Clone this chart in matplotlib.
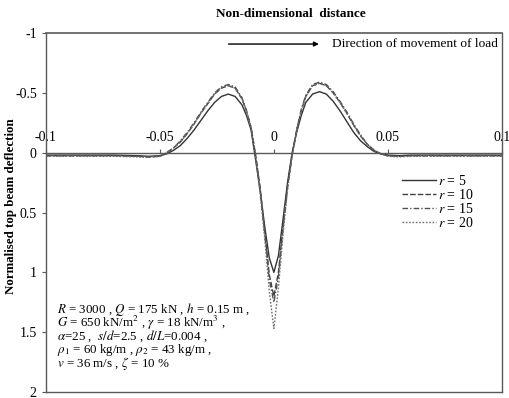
import numpy as np
import matplotlib
matplotlib.use("Agg")
import matplotlib.pyplot as plt

plt.rcParams['font.family'] = ['Liberation Serif', 'DejaVu Serif']
plt.rcParams['mathtext.fontset'] = 'stix'
plt.rcParams['axes.unicode_minus'] = False

# non-dimensional distance
x = [-0.1, -0.09, -0.08, -0.07, -0.06, -0.055, -0.05, -0.047, -0.044, -0.041,
     -0.038, -0.035, -0.032, -0.029, -0.026, -0.023, -0.020, -0.017, -0.014, -0.012,
     -0.010, -0.008, -0.006, -0.004, -0.002, 0.0, 0.002, 0.004, 0.006, 0.008,
     0.010, 0.012, 0.014, 0.017, 0.020, 0.023, 0.026, 0.029, 0.032, 0.035,
     0.038, 0.041, 0.044, 0.047, 0.05, 0.055, 0.06, 0.07, 0.08, 0.09, 0.1]

r5 = [0.02, 0.02, 0.02, 0.02, 0.025, 0.03, 0.025, 0.01, -0.02, -0.06,
      -0.12, -0.19, -0.27, -0.35, -0.42, -0.47, -0.49, -0.47, -0.40, -0.31,
      -0.19, 0.06, 0.32, 0.62, 0.88, 1.0, 0.86, 0.56, 0.25, 0.0,
      -0.17, -0.31, -0.42, -0.49, -0.51, -0.49, -0.43, -0.35, -0.26, -0.17,
      -0.10, -0.05, -0.01, 0.01, 0.02, 0.025, 0.02, 0.02, 0.02, 0.02, 0.02]

r10 = [0.025, 0.025, 0.025, 0.025, 0.03, 0.035, 0.03, 0.0, -0.04, -0.09,
       -0.16, -0.24, -0.33, -0.41, -0.49, -0.54, -0.56, -0.54, -0.45, -0.35,
       -0.21, 0.02, 0.30, 0.66, 1.02, 1.20, 1.00, 0.62, 0.28, 0.02,
       -0.19, -0.35, -0.47, -0.56, -0.58, -0.56, -0.50, -0.42, -0.33, -0.23,
       -0.14, -0.07, -0.02, 0.01, 0.025, 0.03, 0.025, 0.025, 0.025, 0.025, 0.025]

r15 = [0.025, 0.025, 0.025, 0.025, 0.03, 0.035, 0.03, 0.0, -0.04, -0.10,
       -0.17, -0.25, -0.34, -0.42, -0.50, -0.55, -0.57, -0.55, -0.46, -0.35,
       -0.21, 0.02, 0.31, 0.68, 1.06, 1.25, 1.04, 0.64, 0.29, 0.02,
       -0.19, -0.36, -0.48, -0.57, -0.59, -0.57, -0.51, -0.43, -0.34, -0.24,
       -0.15, -0.07, -0.02, 0.01, 0.025, 0.03, 0.025, 0.025, 0.025, 0.025, 0.025]

r20 = [0.03, 0.03, 0.03, 0.03, 0.035, 0.04, 0.03, 0.0, -0.04, -0.09,
       -0.16, -0.24, -0.33, -0.41, -0.49, -0.54, -0.56, -0.54, -0.45, -0.34,
       -0.20, 0.04, 0.34, 0.72, 1.16, 1.47, 1.13, 0.68, 0.31, 0.03,
       -0.18, -0.35, -0.47, -0.56, -0.58, -0.56, -0.50, -0.42, -0.33, -0.23,
       -0.14, -0.07, -0.02, 0.01, 0.03, 0.035, 0.03, 0.03, 0.03, 0.03, 0.03]

labels = [r'$r$ = 5', r'$r$ = 10', r'$r$ = 15', r'$r$ = 20']

yticks = [-1, -0.5, 0, 0.5, 1, 1.5, 2]
ytick_labels = ['-1', '-0.5', '0', '0.5', '1', '1.5', '2']
xticks = [-0.1, -0.05, 0, 0.05, 0.1]
xtick_labels = ['-0.1', '-0.05', '0', '0.05', '0.1']

params = [r'$R$ = 3000 , $Q$ = 175 kN , $h$ = 0.15 m ,',
          r'$G$ = 650 kN/m$^2$ , $\gamma$ = 18 kN/m$^3$ ,',
          r'$\alpha$=25 ,  $s/d$=2.5 , $d/L$=0.004 ,',
          r'$\rho_1$ = 60 kg/m , $\rho_2$ = 43 kg/m ,',
          r'$v$ = 36 m/s , $\zeta$ = 10 %']

fig = plt.figure(figsize=(5.1, 3.98), dpi=100)
ax = fig.add_axes([0.090, 0.015, 0.894, 0.902])

axcol = '#595959'
ax.plot(x, r5, color='#333333', lw=1.0, label=labels[0])
ax.plot(x, r10, color='#404040', lw=1.0, dashes=(4, 1.5), label=labels[1])
ax.plot(x, r15, color='#505050', lw=1.0, dashes=(4, 1.5, 1, 1.5), label=labels[2])
ax.plot(x, r20, color='#707070', lw=1.0, dashes=(1.2, 1.2), label=labels[3])

ax.set_xlim(-0.1, 0.1)
ax.set_ylim(2, -1)

# x axis drawn through y = 0, labels above it
ax.spines['top'].set_position(('data', 0))
ax.xaxis.set_ticks_position('top')
ax.set_xticks(xticks)
ax.set_xticklabels(xtick_labels)
ax.tick_params(axis='x', length=3, pad=3, labelsize=10, colors='black')
ax.axhline(-1, color=axcol, lw=1.2, clip_on=False)

ax.set_yticks(yticks)
ax.set_yticklabels(ytick_labels)
ax.tick_params(axis='y', length=3, labelsize=10, colors='black')
for s in ax.spines.values():
    s.set_color(axcol)
    s.set_linewidth(1.0)
ax.tick_params(color=axcol)

fig.text(0.57, 0.965, 'Non-dimensional  distance', ha='center', va='center',
         fontsize=9.5, fontweight='bold')
fig.text(0.022, 0.482, 'Normalised top beam deflection', rotation=90,
         ha='center', va='center', fontsize=9.3, fontweight='bold')

ax.annotate('', xy=(0.021, -0.908), xytext=(-0.0211, -0.908),
            arrowprops=dict(arrowstyle='-|>', color='black', lw=1.0,
                            mutation_scale=7))
ax.text(0.0253, -0.908, 'Direction of movement of load', ha='left',
        va='center', fontsize=9.6)

for i, line in enumerate(params):
    ax.text(0.0048 - 0.1, 1.31 + i * 0.113, line, ha='left', va='center',
            fontsize=9.4)

leg = ax.legend(loc='upper left', bbox_to_anchor=(0.765, 0.628), frameon=False,
                fontsize=10, handlelength=2.5, handletextpad=0.15,
                labelspacing=0.02, borderpad=0)

fig.savefig('out.png', dpi=100)
